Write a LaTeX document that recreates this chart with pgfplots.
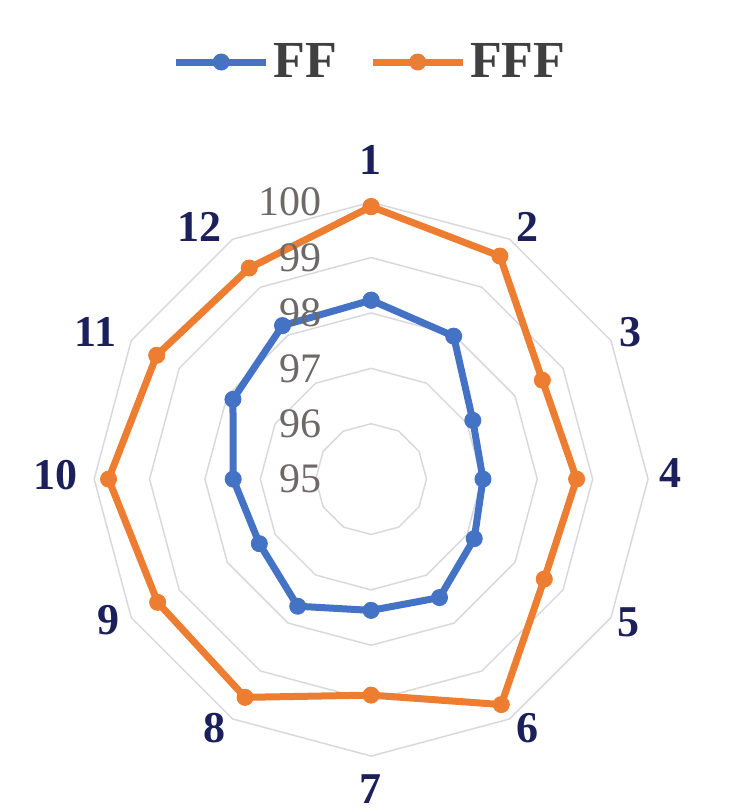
\documentclass[border=0pt]{standalone}
\usepackage{pgfplots}
\pgfplotsset{compat=1.18}
\usepackage{pgfplotstable}
\usepackage{fontspec}
\setmainfont{Liberation Serif}
\definecolor{ffblue}{HTML}{4472C4}
\definecolor{fforange}{HTML}{ED7D31}
\definecolor{catnavy}{RGB}{28,32,90}
\definecolor{ticgray}{RGB}{110,105,105}
\definecolor{leggray}{HTML}{404040}
\definecolor{ringgray}{RGB}{215,217,222}

\pgfplotstableread{
idx ff fff
1 98.23 99.92
2 97.98 99.65
3 97.12 98.57
4 97.02 98.71
5 97.15 98.61
6 97.47 99.70
7 97.37 98.90
8 97.65 99.55
9 97.33 99.45
10 97.49 99.74
11 97.88 99.47
12 98.20 99.40
13 98.23 99.92
}\radardata

\begin{document}
\begin{tikzpicture}
\begin{axis}[
  x=27.7pt, y=27.7pt,
  xmin=-6.70, xmax=6.59, ymin=-6.01, ymax=8.65,
  hide axis, clip=false,
  legend columns=2,
  legend image code/.code={\draw[mark repeat=2,mark phase=2,#1] plot coordinates {(0pt,0pt) (22.5pt,0pt) (45pt,0pt)};},
  legend style={at={(axis cs:0,7.53)}, anchor=center, draw=none, fill=none,
    font=\fontsize{26}{28}\selectfont\bfseries, text=leggray,
    /tikz/every even column/.append style={column sep=14pt},
    /tikz/every odd column/.append style={column sep=0pt}},
]
\path[draw=none] (axis cs:-6.70,-6.01) rectangle (axis cs:6.59,8.65);
% rings
\pgfplotsinvokeforeach{96,97,98,99,100}{
  \addplot[ringgray, line width=0.75pt, forget plot] table[
    x expr={(#1-95)*cos(90-30*(\thisrow{idx}-1))},
    y expr={(#1-95)*sin(90-30*(\thisrow{idx}-1))}] {\radardata};
}
\addplot[ffblue, line width=3.5pt, mark=*, mark size=4pt, mark options={solid, fill=ffblue, draw=ffblue, line width=0.5pt}] table[
    x expr={(\thisrow{ff}-95)*cos(90-30*(\thisrow{idx}-1))},
    y expr={(\thisrow{ff}-95)*sin(90-30*(\thisrow{idx}-1))}] {\radardata};
\addlegendentry{FF}
\addplot[fforange, line width=3.5pt, mark=*, mark size=4pt, mark options={solid, fill=fforange, draw=fforange, line width=0.5pt}] table[
    x expr={(\thisrow{fff}-95)*cos(90-30*(\thisrow{idx}-1))},
    y expr={(\thisrow{fff}-95)*sin(90-30*(\thisrow{idx}-1))}] {\radardata};
\addlegendentry{FFF}
% radial tick labels
\begin{scope}[every node/.style={anchor=east, text=ticgray, font=\fontsize{21}{22}\selectfont, inner sep=0pt}]
\node at (axis cs:-0.88,0) {95};
\node at (axis cs:-0.88,1) {96};
\node at (axis cs:-0.88,2) {97};
\node at (axis cs:-0.88,3) {98};
\node at (axis cs:-0.88,4) {99};
\node at (axis cs:-0.88,5) {100};
\end{scope}
% category labels
\begin{scope}[every node/.style={text=catnavy, font=\fontsize{22}{24}\selectfont\bfseries, inner sep=0pt}]
\node at (axis cs:-0.02,5.76) {1};
\node at (axis cs:2.82,4.55) {2};
\node at (axis cs:4.68,2.65) {3};
\node at (axis cs:5.40,0.11) {4};
\node at (axis cs:4.64,-2.58) {5};
\node at (axis cs:2.82,-4.49) {6};
\node at (axis cs:-0.02,-5.60) {7};
\node at (axis cs:-2.82,-4.49) {8};
\node at (axis cs:-4.75,-2.55) {9};
\node at (axis cs:-5.70,0.07) {10};
\node at (axis cs:-4.98,2.65) {11};
\node at (axis cs:-3.09,4.55) {12};
\end{scope}
\end{axis}
\end{tikzpicture}
\end{document}
